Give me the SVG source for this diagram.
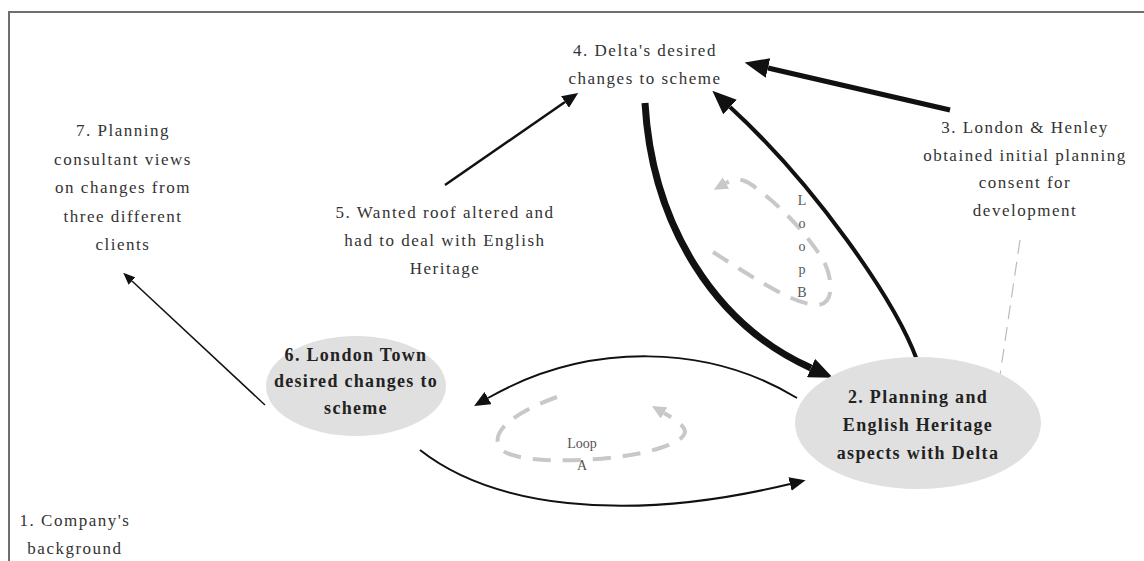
<svg xmlns="http://www.w3.org/2000/svg" width="1144" height="561" viewBox="0 0 1144 561">
  <style>
    .lbl { font-family: "Liberation Serif", "Times New Roman", serif; font-size: 17px; letter-spacing: 1.5px; fill: #333; text-anchor: middle; }
    .bold { font-family: "Liberation Serif", "Times New Roman", serif; font-size: 18px; font-weight: bold; letter-spacing: 1.3px; fill: #222; text-anchor: middle; }
    .loop { font-family: "Liberation Serif", "Times New Roman", serif; font-size: 14px; fill: #555; text-anchor: middle; }
    .node { fill: #e0e0e0; stroke: none; }
    .edge { fill: none; stroke: #111; stroke-linecap: butt; }
    .cycle { fill: none; stroke: #c8c8c8; stroke-width: 4; stroke-dasharray: 18 12; }
  </style>
  <defs>
    <marker id="ahS" markerUnits="userSpaceOnUse" markerWidth="12" markerHeight="10" refX="0" refY="5" orient="auto">
      <path d="M0,0 L12,5 L0,10 z" fill="#111"/>
    </marker>
    <marker id="ahM" markerUnits="userSpaceOnUse" markerWidth="16" markerHeight="14" refX="0" refY="7" orient="auto">
      <path d="M0,0 L16,7 L0,14 z" fill="#111"/>
    </marker>
    <marker id="ahL" markerUnits="userSpaceOnUse" markerWidth="24" markerHeight="20" refX="0" refY="10" orient="auto">
      <path d="M0,0 L24,10 L0,20 z" fill="#111"/>
    </marker>
    <marker id="ahG" markerUnits="userSpaceOnUse" markerWidth="14" markerHeight="13" refX="0" refY="6.5" orient="auto">
      <path d="M0,0 L14,6.5 L0,13 z" fill="#c8c8c8"/>
    </marker>
  </defs>

  <rect x="0" y="0" width="1144" height="561" fill="#fff"/>
  <!-- outer frame: top and left rules -->
  <path d="M9,561 L9,12 L1144,12" fill="none" stroke="#6e6e6e" stroke-width="2"/>

  <!-- connectors -->
  <g id="connectors">
    <path class="edge" d="M265,405 L132,281" stroke-width="1.5" marker-end="url(#ahS)"/>
    <path class="edge" d="M445,185 L565,102" stroke-width="2.5" marker-end="url(#ahM)"/>
    <path class="edge" d="M950,110 L768,68" stroke-width="5" marker-end="url(#ahL)"/>
    <path class="edge" d="M917,360 C895,300 815,185 730,107" stroke-width="4" marker-end="url(#ahL)"/>
    <path class="edge" d="M645,103 C652,225 715,325 811,368" stroke-width="7" marker-end="url(#ahL)"/>
    <path class="edge" d="M797,398 C710,345 590,340 488,398" stroke-width="2" marker-end="url(#ahM)"/>
    <path class="edge" d="M420,450 C490,505 620,525 790,484" stroke-width="2" marker-end="url(#ahM)"/>
    <path d="M1020,240 L1000,375" fill="none" stroke="#bbb" stroke-width="1.2" stroke-dasharray="14 8"/>
    <!-- feedback loops -->
    <path class="cycle" d="M557,397 C520,410 485,432 502,450 C520,466 620,462 660,448 C695,436 690,428 664,413" marker-end="url(#ahG)"/>
    <path class="cycle" d="M713,252 C760,282 795,305 818,305 C838,303 830,270 822,258 C805,232 780,205 752,185 C742,178 735,178 726,183" marker-end="url(#ahG)"/>
  </g>

  <g id="loopA">
    <text class="loop" x="582" y="448">Loop</text>
    <text class="loop" x="582" y="470">A</text>
  </g>
  <g id="loopB">
    <text class="loop" x="802" y="205">L</text>
    <text class="loop" x="802" y="228">o</text>
    <text class="loop" x="802" y="251">o</text>
    <text class="loop" x="802" y="274">p</text>
    <text class="loop" x="802" y="297">B</text>
  </g>

  <g id="node1">
    <text class="lbl" x="75" y="526">1. Company's</text>
    <text class="lbl" x="75" y="554">background</text>
  </g>

  <g id="node2">
    <ellipse class="node" cx="918" cy="423" rx="123" ry="66"/>
    <text class="bold" x="918" y="403">2. Planning and</text>
    <text class="bold" x="918" y="431">English Heritage</text>
    <text class="bold" x="918" y="459">aspects with Delta</text>
  </g>

  <g id="node3">
    <text class="lbl" x="1025" y="133">3. London &amp; Henley</text>
    <text class="lbl" x="1025" y="161">obtained initial planning</text>
    <text class="lbl" x="1025" y="188">consent for</text>
    <text class="lbl" x="1025" y="216">development</text>
  </g>

  <g id="node4">
    <text class="lbl" x="645" y="56">4. Delta's desired</text>
    <text class="lbl" x="645" y="84">changes to scheme</text>
  </g>

  <g id="node5">
    <text class="lbl" x="445" y="218">5. Wanted roof altered and</text>
    <text class="lbl" x="445" y="246">had to deal with English</text>
    <text class="lbl" x="445" y="274">Heritage</text>
  </g>

  <g id="node6">
    <ellipse class="node" cx="356" cy="386" rx="90" ry="50"/>
    <text class="bold" x="356" y="361">6. London Town</text>
    <text class="bold" x="356" y="387">desired changes to</text>
    <text class="bold" x="356" y="414">scheme</text>
  </g>

  <g id="node7">
    <text class="lbl" x="123" y="136">7. Planning</text>
    <text class="lbl" x="123" y="165">consultant views</text>
    <text class="lbl" x="123" y="193">on changes from</text>
    <text class="lbl" x="123" y="222">three different</text>
    <text class="lbl" x="123" y="250">clients</text>
  </g>
</svg>
